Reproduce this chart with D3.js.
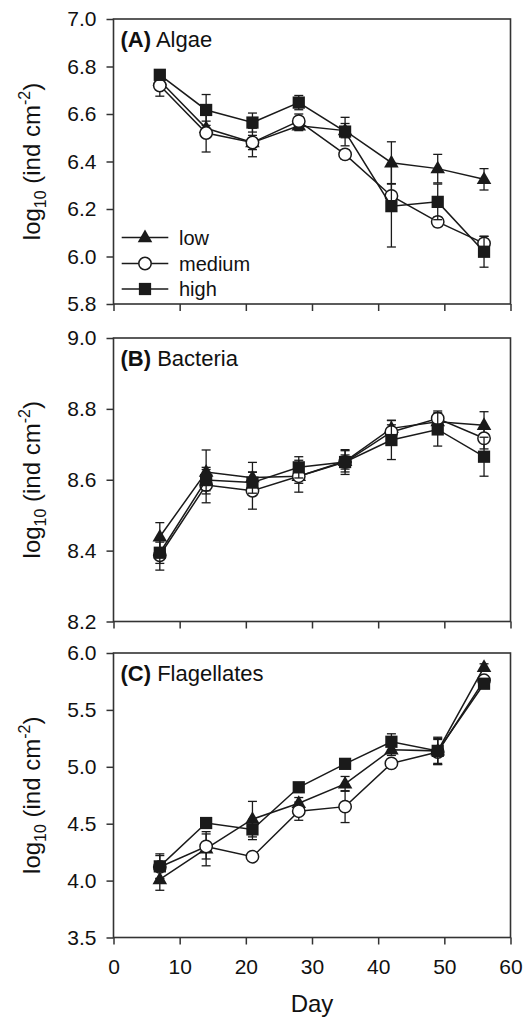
<!DOCTYPE html>
<html><head><meta charset="utf-8">
<script src="https://cdn.jsdelivr.net/npm/d3@7"></script>
<style>
body{margin:0;background:#fff;}
svg{display:block;font-family:"Liberation Sans",Arial,Helvetica,sans-serif;}
</style></head>
<body><svg id="c" width="525" height="1020"></svg>
<script>
// ---------- data ----------
const days = [7, 14, 21, 28, 35, 42, 49, 56];
const xTicks = [0, 10, 20, 30, 40, 50, 60];
const seriesNames = ["low", "medium", "high"];

// (A) Algae
const algaeLow     = [6.74, 6.54, 6.48, 6.55, 6.53, 6.395, 6.37, 6.325];
const algaeMedium  = [6.72, 6.52, 6.48, 6.57, 6.43, 6.255, 6.146, 6.055];
const algaeHigh    = [6.765, 6.617, 6.564, 6.648, 6.526, 6.212, 6.23, 6.02];
const algaeLowErr    = [0.03, 0.03, 0.03, 0.02, 0.03, 0.088, 0.06, 0.045];
const algaeMediumErr = [0.045, 0.08, 0.06, 0.03, 0.02, 0.05, 0.02, 0.03];
const algaeHighErr   = [0.02, 0.065, 0.04, 0.03, 0.06, 0.172, 0.075, 0.065];
const algaeTicks = [5.8, 6.0, 6.2, 6.4, 6.6, 6.8, 7.0];

// (B) Bacteria
const bactLow     = [8.439, 8.622, 8.606, 8.61, 8.652, 8.745, 8.764, 8.754];
const bactMedium  = [8.387, 8.585, 8.569, 8.61, 8.65, 8.735, 8.773, 8.717];
const bactHigh    = [8.394, 8.599, 8.592, 8.635, 8.65, 8.712, 8.742, 8.665];
const bactLowErr    = [0.04, 0.062, 0.043, 0.02, 0.03, 0.023, 0.02, 0.038];
const bactMediumErr = [0.042, 0.05, 0.052, 0.045, 0.02, 0.02, 0.021, 0.03];
const bactHighErr   = [0.03, 0.03, 0.03, 0.03, 0.035, 0.055, 0.047, 0.055];
const bactTicks = [8.2, 8.4, 8.6, 8.8, 9.0];

// (C) Flagellates
const flagLow     = [4.01, 4.28, 4.54, 4.68, 4.85, 5.15, 5.14, 5.875];
const flagMedium  = [4.12, 4.30, 4.21, 4.61, 4.65, 5.03, 5.13, 5.76];
const flagHigh    = [4.125, 4.506, 4.45, 4.82, 5.026, 5.22, 5.14, 5.73];
const flagLowErr    = [0.095, 0.15, 0.156, 0.05, 0.065, 0.05, 0.11, 0.03];
const flagMediumErr = [0.1, 0.11, 0.03, 0.08, 0.14, 0.04, 0.11, 0.03];
const flagHighErr   = [0.11, 0.04, 0.09, 0.04, 0.03, 0.07, 0.12, 0.04];
const flagTicks = [3.5, 4.0, 4.5, 5.0, 5.5, 6.0];

const panels = [
  {letter: "(A)", name: "Algae", domain: [5.8, 7.0], ticks: algaeTicks, fmt: d3.format(".1f"),
   values: [algaeLow, algaeMedium, algaeHigh], errs: [algaeLowErr, algaeMediumErr, algaeHighErr],
   top: 19, bottom: 304, legend: true, xLabels: false},
  {letter: "(B)", name: "Bacteria", domain: [8.2, 9.0], ticks: bactTicks, fmt: d3.format(".1f"),
   values: [bactLow, bactMedium, bactHigh], errs: [bactLowErr, bactMediumErr, bactHighErr],
   top: 338, bottom: 621.5, legend: false, xLabels: false},
  {letter: "(C)", name: "Flagellates", domain: [3.5, 6.0], ticks: flagTicks, fmt: d3.format(".1f"),
   values: [flagLow, flagMedium, flagHigh], errs: [flagLowErr, flagMediumErr, flagHighErr],
   top: 653, bottom: 937.5, legend: false, xLabels: true}
];

// ---------- drawing ----------
const svg = d3.select("#c");
const left = 113.5, right = 510.5;
const ink = "#1a1a1a", frame = "#333";
const x = d3.scaleLinear().domain([0, 60]).range([left, right]);

const triPath = d3.symbol().type(d3.symbolTriangle).size(92)();
const sqPath = d3.symbol().type(d3.symbolSquare).size(150)();

function drawMarker(g, kind, cx, cy) {
  if (kind === 0) {
    g.append("path").attr("d", triPath).attr("transform", `translate(${cx},${cy + 0.5})`).attr("fill", ink);
  } else if (kind === 1) {
    g.append("circle").attr("cx", cx).attr("cy", cy).attr("r", 6.2)
      .attr("fill", "#fff").attr("stroke", ink).attr("stroke-width", 1.5);
  } else {
    g.append("path").attr("d", sqPath).attr("transform", `translate(${cx},${cy})`).attr("fill", ink);
  }
}

panels.forEach(p => {
  const y = d3.scaleLinear().domain(p.domain).range([p.bottom, p.top]);
  const g = svg.append("g");

  // y axis
  const ya = g.append("g").attr("transform", `translate(${left},0)`)
    .call(d3.axisLeft(y).tickValues(p.ticks).tickFormat(p.fmt).tickSize(7).tickSizeOuter(0).tickPadding(10));
  ya.select(".domain").remove();
  ya.selectAll("line").attr("stroke", frame).attr("stroke-width", 1.5);
  ya.selectAll("text").attr("font-size", 21).attr("fill", "#111").attr("font-family", '"Liberation Sans",Arial,sans-serif');

  // x axis
  const xa = g.append("g").attr("transform", `translate(0,${p.bottom})`)
    .call(d3.axisBottom(x).tickValues(xTicks).tickSize(7).tickSizeOuter(0).tickPadding(15)
      .tickFormat(p.xLabels ? d3.format("d") : () => ""));
  xa.select(".domain").remove();
  xa.selectAll("line").attr("stroke", frame).attr("stroke-width", 1.5);
  xa.selectAll("text").attr("font-size", 21).attr("fill", "#111").attr("font-family", '"Liberation Sans",Arial,sans-serif');

  // frame
  g.append("rect").attr("x", left).attr("y", p.top).attr("width", right - left).attr("height", p.bottom - p.top)
    .attr("fill", "none").attr("stroke", frame).attr("stroke-width", 1.6);

  // panel title
  const t = g.append("text").attr("x", 120.5).attr("y", p.top + 27.5).attr("font-size", 22).attr("fill", "#111");
  t.append("tspan").attr("font-weight", "bold").text(p.letter);
  t.append("tspan").text(" " + p.name);

  // y axis title
  const yc = (p.top + p.bottom) / 2;
  const yt = g.append("text").attr("transform", `translate(40,${yc}) rotate(-90)`)
    .attr("text-anchor", "middle").attr("font-size", 24).attr("fill", "#111");
  yt.append("tspan").text("log");
  yt.append("tspan").attr("font-size", 16).attr("dy", 6).text("10");
  yt.append("tspan").attr("dy", -6).text(" (ind cm");
  yt.append("tspan").attr("font-size", 16).attr("dy", -10).text("-2");
  yt.append("tspan").attr("dy", 10).text(")");

  // series
  const line = d3.line().x((d, i) => x(days[i])).y(d => y(d));
  p.values.forEach((vals, si) => {
    const sg = g.append("g");
    const errs = p.errs[si];
    vals.forEach((v, i) => {
      const cx = x(days[i]), y1 = y(v + errs[i]), y2 = y(v - errs[i]);
      sg.append("line").attr("x1", cx).attr("x2", cx).attr("y1", y1).attr("y2", y2)
        .attr("stroke", ink).attr("stroke-width", 1.3);
      [y1, y2].forEach(yy => sg.append("line").attr("x1", cx - 4.5).attr("x2", cx + 4.5)
        .attr("y1", yy).attr("y2", yy).attr("stroke", ink).attr("stroke-width", 1.3));
    });
    sg.append("path").attr("d", line(vals)).attr("fill", "none").attr("stroke", ink).attr("stroke-width", 1.5);
    vals.forEach((v, i) => drawMarker(sg, si, x(days[i]), y(v)));
  });

  // legend
  if (p.legend) {
    const rows = [237.5, 263.5, 289];
    seriesNames.forEach((n, si) => {
      const lg = g.append("g");
      lg.append("line").attr("x1", 121.7).attr("x2", 168.3).attr("y1", rows[si]).attr("y2", rows[si])
        .attr("stroke", ink).attr("stroke-width", 1.5);
      drawMarker(lg, si, 145, rows[si]);
      lg.append("text").attr("x", 179).attr("y", rows[si] + 7).attr("font-size", 20).attr("fill", "#111").text(n);
    });
  }
});

// x axis title
svg.append("text").attr("x", (left + right) / 2).attr("y", 1012).attr("text-anchor", "middle")
  .attr("font-size", 24).attr("fill", "#111").text("Day");
</script>
</body></html>
